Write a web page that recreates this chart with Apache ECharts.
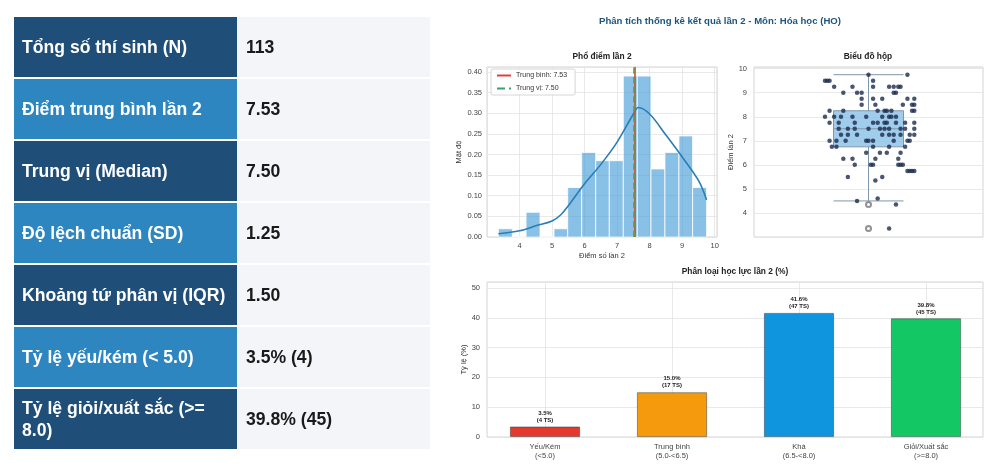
<!DOCTYPE html>
<html>
<head>
<meta charset="utf-8">
<script src="https://cdn.jsdelivr.net/npm/echarts@6/dist/echarts.min.js"></script>
<style>
  html, body { margin: 0; padding: 0; background: #fff; }
  #main { position: absolute; left: 0; top: 0; width: 1000px; height: 469px; }
  #stats { position: absolute; left: 14px; top: 17px; width: 416px;
           font-family: "Liberation Sans", Arial, sans-serif; }
  .row { display: flex; height: 60px; margin-bottom: 2px; }
  .k { width: 215px; flex: none; padding-left: 8px; color: #fff; font-weight: bold;
       font-size: 17.6px; line-height: 22px; display: flex; align-items: center; }
  .v { flex: 1; padding-left: 9px; background: #f3f5f8; color: #1a1a1a; font-weight: bold;
       font-size: 17.6px; display: flex; align-items: center; }
</style>
</head>
<body>
<div id="main"></div>
<div id="stats"></div>
<script>
// bảng thống kê
var statLabels = ['Tổng số thí sinh (N)', 'Điểm trung bình lần 2', 'Trung vị (Median)',
  'Độ lệch chuẩn (SD)', 'Khoảng tứ phân vị (IQR)', 'Tỷ lệ yếu/kém (< 5.0)', 'Tỷ lệ giỏi/xuất sắc (>= 8.0)'];
var statValues = ['113', '7.53', '7.50', '1.25', '1.50', '3.5% (4)', '39.8% (45)'];
var rowColors = ['#1f4e79', '#2e86c1'];

// phổ điểm
var binEdges = [3.35, 3.78, 4.20, 4.63, 5.06, 5.48, 5.91, 6.34, 6.76, 7.19, 7.62, 8.04, 8.47, 8.90, 9.32, 9.75];
var binDensity = [0.02, 0, 0.06, 0, 0.02, 0.12, 0.205, 0.185, 0.185, 0.39, 0.39, 0.165, 0.205, 0.245, 0.12];
var kdeX = [3.35, 4.0, 4.5, 5.0, 5.27, 5.5, 6.0, 6.5, 7.0, 7.5, 7.65, 8.0, 8.5, 9.0, 9.5, 9.75];
var kdeY = [0.008, 0.015, 0.027, 0.039, 0.054, 0.076, 0.129, 0.176, 0.23, 0.298, 0.314, 0.298, 0.247, 0.194, 0.137, 0.09];
var meanScore = 7.53;
var medianScore = 7.50;

// biểu đồ hộp: min, Q1, median, Q3, max
var boxStats = [4.5, 6.75, 7.5, 8.25, 9.75];
var outliers = [4.35, 3.35];
// điểm từng thí sinh: [điểm, độ lệch ngang]
var stripRows = [
  [9.75, [0.00, 0.17]],
  [9.5, [-0.19, -0.18, -0.17, 0.02]],
  [9.25, [-0.15, -0.07, 0.02, 0.09, 0.11, 0.13, 0.14]],
  [9.0, [-0.11, -0.05, -0.03, 0.11, 0.12]],
  [8.75, [-0.03, 0.02, 0.06, 0.17, 0.2]],
  [8.5, [-0.03, 0.03, 0.15, 0.19, 0.2]],
  [8.25, [-0.17, -0.11, 0.04, 0.07, 0.08, 0.1, 0.19, 0.2]],
  [8.0, [-0.19, -0.15, -0.12, -0.07, -0.01, 0.06, 0.09, 0.1, 0.12]],
  [7.75, [-0.17, -0.13, -0.06, 0.02, 0.04, 0.07, 0.08, 0.12, 0.16, 0.2]],
  [7.5, [-0.13, -0.09, -0.06, 0.0, 0.05, 0.07, 0.09, 0.14, 0.16, 0.2]],
  [7.25, [-0.12, -0.09, -0.05, 0.06, 0.09, 0.11, 0.14, 0.18, 0.2]],
  [7.0, [-0.17, -0.14, -0.1, -0.01, 0.0, 0.02, 0.11, 0.17, 0.18]],
  [6.75, [-0.16, -0.14, 0.02, 0.09, 0.16]],
  [6.5, [-0.01, 0.05, 0.08, 0.14]],
  [6.25, [-0.11, -0.07, 0.03, 0.13]],
  [6.0, [-0.06, 0.01, 0.02, 0.13, 0.14, 0.15]],
  [5.75, [0.17, 0.18, 0.19, 0.2]],
  [5.5, [-0.09, 0.06]],
  [5.35, [0.03]],
  [4.6, [0.04]],
  [4.5, [-0.05]],
  [4.35, [0.12]],
  [3.35, [0.09]]
];

// phân loại học lực
var classNames = ['Yếu/Kém\n(<5.0)', 'Trung bình\n(5.0-<6.5)', 'Khá\n(6.5-<8.0)', 'Giỏi/Xuất sắc\n(>=8.0)'];
var classPercent = [3.5, 15.0, 41.6, 39.8];
var classCount = [4, 17, 47, 45];
var classColors = ['#e43a2e', '#f59a0c', '#0f95de', '#14c765'];

// --- bảng bên trái
var html = '';
statLabels.forEach(function (lab, i) {
  html += '<div class="row"><div class="k" style="background:' + rowColors[i % 2] + '">' +
    lab.replace(/</g, '&lt;').replace(/>/g, '&gt;') + '</div><div class="v">' + statValues[i] + '</div></div>';
});
document.getElementById('stats').innerHTML = html;

// --- biểu đồ
var FONT = '"Liberation Sans", Arial, sans-serif';
var labelStyle = { fontSize: 7.5, color: '#444', fontFamily: FONT };
var nameStyle = { fontSize: 7.5, color: '#333' };
var gridLine = { show: true, lineStyle: { color: '#e3e3e3', width: 0.8 } };
var frame = { show: true, borderColor: '#d4d4d4', borderWidth: 1, outerBoundsMode: 'none' };

var binData = binDensity.map(function (d, i) { return [binEdges[i], binEdges[i + 1], d]; });
var kdeData = kdeX.map(function (x, i) { return [x, kdeY[i]]; });
var stripData = [];
stripRows.forEach(function (r) {
  r[1].forEach(function (j) { stripData.push([j, r[0]]); });
});

var myChart = echarts.init(document.getElementById('main'));
option = {
  animation: false,
  textStyle: { fontFamily: FONT },
  graphic: [
    { type: 'text', x: 720, y: 16, style: { text: 'Phân tích thống kê kết quả lần 2 - Môn: Hóa học (HO)',
      align: 'center', fill: '#1c5580', font: 'bold 9.6px ' + FONT } },
    { type: 'text', x: 602, y: 53, style: { text: 'Phổ điểm lần 2', align: 'center', fill: '#222', font: 'bold 8.4px ' + FONT } },
    { type: 'text', x: 868, y: 53, style: { text: 'Biểu đồ hộp', align: 'center', fill: '#222', font: 'bold 8.4px ' + FONT } },
    { type: 'text', x: 735, y: 268, style: { text: 'Phân loại học lực lần 2 (%)', align: 'center', fill: '#222', font: 'bold 8.4px ' + FONT } }
  ],
  legend: {
    data: ['Trung bình: 7.53', 'Trung vị: 7.50'],
    left: 491, top: 69, orient: 'vertical',
    itemWidth: 14, itemHeight: 7, itemGap: 6,
    textStyle: { fontSize: 7, color: '#333' },
    backgroundColor: 'rgba(255,255,255,0.85)', borderColor: '#cccccc', borderWidth: 0.8, borderRadius: 2,
    padding: [3, 8, 3, 5],
    itemStyle: { opacity: 0 },
    selectedMode: false
  },
  grid: [
    Object.assign({ left: 487, top: 67, width: 230, height: 170 }, frame),
    Object.assign({ left: 754, top: 67, width: 229, height: 170 }, frame),
    Object.assign({ left: 487, top: 282, width: 496, height: 155 }, frame),
    { left: 545, top: 282, width: 381, height: 155, show: false, outerBoundsMode: 'none' }
  ],
  xAxis: [
    { gridIndex: 0, type: 'value', min: 3, max: 10.07, interval: 1,
      axisLine: { show: false }, axisTick: { show: false },
      axisLabel: Object.assign({ showMinLabel: false, showMaxLabel: false, margin: 5 }, labelStyle),
      splitLine: gridLine,
      name: 'Điểm số lần 2', nameLocation: 'middle', nameGap: 15, nameTextStyle: nameStyle },
    { gridIndex: 1, type: 'category', data: [''], show: false },
    { gridIndex: 1, type: 'value', min: -0.5, max: 0.5, show: false },
    { gridIndex: 2, type: 'value', min: 0, max: 1, show: false },
    { gridIndex: 3, type: 'category', data: classNames, boundaryGap: false,
      axisLine: { show: false }, axisTick: { show: false },
      axisLabel: Object.assign({ interval: 0, margin: 5, lineHeight: 9 }, labelStyle),
      splitLine: { show: true, interval: 0, lineStyle: { color: '#e3e3e3', width: 0.8 } } }
  ],
  yAxis: [
    { gridIndex: 0, type: 'value', min: 0, max: 0.412, interval: 0.05,
      axisLine: { show: false }, axisTick: { show: false },
      axisLabel: Object.assign({ showMaxLabel: false, margin: 5,
        formatter: function (v) { return v.toFixed(2); } }, labelStyle),
      splitLine: gridLine,
      name: 'Mật độ', nameLocation: 'middle', nameGap: 24, nameTextStyle: nameStyle },
    { gridIndex: 1, type: 'value', min: 3, max: 10.07, interval: 1,
      axisLine: { show: false }, axisTick: { show: false },
      axisLabel: Object.assign({ showMinLabel: false, showMaxLabel: false, margin: 7 }, labelStyle),
      splitLine: gridLine,
      name: 'Điểm lần 2', nameLocation: 'middle', nameGap: 19, nameTextStyle: nameStyle },
    { gridIndex: 2, type: 'value', min: 0, max: 52, interval: 10,
      axisLine: { show: false }, axisTick: { show: false },
      axisLabel: Object.assign({ showMaxLabel: false, margin: 7 }, labelStyle),
      splitLine: gridLine,
      name: 'Tỷ lệ (%)', nameLocation: 'middle', nameGap: 19, nameTextStyle: nameStyle },
    { gridIndex: 3, type: 'value', min: 0, max: 52, show: false }
  ],
  series: [
    {
      type: 'custom', name: 'hist', xAxisIndex: 0, yAxisIndex: 0,
      encode: { x: [0, 1], y: 2 },
      data: binData,
      renderItem: function (params, api) {
        var p0 = api.coord([api.value(0), api.value(2)]);
        var p1 = api.coord([api.value(1), 0]);
        return { type: 'rect',
          shape: { x: p0[0], y: p0[1], width: p1[0] - p0[0], height: p1[1] - p0[1] },
          style: { fill: 'rgba(65,155,215,0.62)', stroke: '#ffffff', lineWidth: 0.8 } };
      }
    },
    {
      type: 'line', name: 'kde', xAxisIndex: 0, yAxisIndex: 0,
      data: kdeData, smooth: 0.35, showSymbol: false,
      lineStyle: { color: '#2a7db5', width: 1.6 }
    },
    {
      type: 'line', name: 'Trung bình: 7.53', xAxisIndex: 0, yAxisIndex: 0, data: [],
      color: '#e0403a', symbol: 'none', lineStyle: { color: '#e0403a', width: 1.6 },
      markLine: { silent: true, symbol: 'none', label: { show: false },
        lineStyle: { color: '#d9443a', width: 1.6, type: 'solid' },
        data: [{ xAxis: meanScore }] }
    },
    {
      type: 'line', name: 'Trung vị: 7.50', xAxisIndex: 0, yAxisIndex: 0, data: [],
      color: '#3aa56a', symbol: 'none', lineStyle: { color: '#3aa56a', width: 1.6, type: 'dashed' },
      markLine: { silent: true, symbol: 'none', label: { show: false },
        lineStyle: { color: '#6a9a3a', width: 1.6, type: 'dashed' },
        data: [{ xAxis: medianScore }] }
    },
    {
      type: 'boxplot', xAxisIndex: 1, yAxisIndex: 1,
      data: [boxStats], boxWidth: [70, 70],
      itemStyle: { color: 'rgba(135,192,230,0.8)', borderColor: '#7f97ab', borderWidth: 1 }
    },
    {
      type: 'scatter', xAxisIndex: 2, yAxisIndex: 1,
      data: outliers.map(function (v) { return [0, v]; }),
      symbol: 'emptyCircle', symbolSize: 5,
      itemStyle: { color: '#777', borderWidth: 0.8 }, z: 3
    },
    {
      type: 'scatter', xAxisIndex: 2, yAxisIndex: 1,
      data: stripData, symbolSize: 4.5,
      itemStyle: { color: '#1d2b4c' }, z: 4
    },
    {
      type: 'bar', xAxisIndex: 4, yAxisIndex: 3,
      barWidth: 70,
      data: classPercent.map(function (v, i) {
        return { value: v, itemStyle: { color: classColors[i] } };
      }),
      itemStyle: { borderColor: 'rgba(40,40,40,0.55)', borderWidth: 0.8 },
      label: {
        show: true, position: 'top', distance: 3,
        fontSize: 6, fontWeight: 'bold', color: '#222', lineHeight: 7,
        formatter: function (p) {
          return classPercent[p.dataIndex].toFixed(1) + '%\n(' + classCount[p.dataIndex] + ' TS)';
        }
      }
    }
  ]
};
myChart.setOption(option);
</script>
</body>
</html>
